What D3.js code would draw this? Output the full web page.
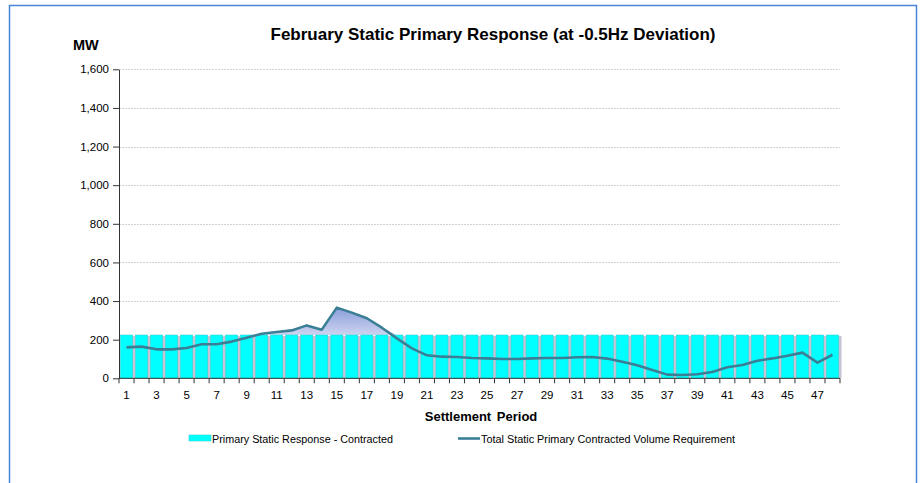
<!DOCTYPE html>
<html><head><meta charset="utf-8">
<script src="https://cdn.jsdelivr.net/npm/d3@7/dist/d3.min.js"></script>
<style>body{margin:0;background:#fff;}svg{display:block;font-family:Arial,"Liberation Sans",sans-serif;}</style>
</head><body><svg id="c" width="921" height="483"></svg>
<script>
const periods = d3.range(1, 49);
const contracted = Array(48).fill(224);
const requirement = [160,164,150,150,157,176,176,190,210,231,240,248,274,252,366,340,311,262,207,155,119,112,110,105,103,100,100,103,105,105,109,110,102,86,67,43,19,17,21,33,57,69,91,103,117,133,81,122];
const yTicks = [0,200,400,600,800,1000,1200,1400,1600];
const xLabels = periods.filter(p => p % 2 === 1);
const titleText = "February Static Primary Response (at -0.5Hz Deviation)";
const legendLabels = ["Primary Static Response - Contracted", "Total Static Primary Contracted Volume Requirement"];

const svg = d3.select("#c");
const m = {l:119, r:840, t:69.3, b:378.3};
const x = d3.scaleBand().domain(periods).range([m.l, m.r]).paddingInner(0.2).paddingOuter(0.1);
const xb = d3.scaleBand().domain(periods).range([m.l, m.r]);
const y = d3.scaleLinear().domain([0,1600]).range([m.b, m.t]);

// frame
svg.append("path").attr("d", `M9.5,490 L9.5,5.5 L916.5,5.5 L916.5,490`).attr("fill","none").attr("stroke","#4a86d8").attr("stroke-width",1.5);

// gradient
const defs = svg.append("defs");
const g = defs.append("linearGradient").attr("id","ag").attr("x1",0).attr("y1",0).attr("x2",0).attr("y2",1);
g.append("stop").attr("offset","0%").attr("stop-color","#8a9edb");
g.append("stop").attr("offset","100%").attr("stop-color","#cdd4f0");

// gridlines
svg.append("g").selectAll("line").data(yTicks.filter(d=>d>0)).join("line")
  .attr("x1", m.l).attr("x2", m.r).attr("y1", d=>Math.round(y(d))+0.5).attr("y2", d=>Math.round(y(d))+0.5)
  .attr("stroke","#d2d2d2").attr("stroke-dasharray","2,1");

// area where requirement exceeds contracted
const areaData = periods.map((p,i)=>({x:xb(p)+xb.bandwidth()/2, top:Math.max(requirement[i], contracted[i]), base:contracted[i]}));
svg.append("path").datum(areaData)
  .attr("d", d3.area().x(d=>d.x).y0(d=>y(d.base)).y1(d=>y(d.top)))
  .attr("fill","url(#ag)");

// bar shadows
svg.append("g").selectAll("rect").data(periods).join("rect")
  .attr("x", p=>x(p)+2).attr("y", (p,i)=>y(contracted[i])+1)
  .attr("width", x.bandwidth()+1).attr("height", (p,i)=>y(0)-y(contracted[i])-1)
  .attr("fill","#c4c4d6");
// bars
svg.append("g").selectAll("rect").data(periods).join("rect")
  .attr("x", p=>x(p)).attr("y", (p,i)=>y(contracted[i]))
  .attr("width", x.bandwidth()).attr("height", (p,i)=>y(0)-y(contracted[i]))
  .attr("fill","#00ffff").attr("stroke","#2bd4d4").attr("stroke-width",0.6);

// line
svg.append("path").datum(requirement)
  .attr("d", d3.line().x((d,i)=>xb(periods[i])+xb.bandwidth()/2).y(d=>y(d)))
  .attr("fill","none").attr("stroke","#3a7f95").attr("stroke-width",2.6).attr("stroke-linejoin","round");

// y axis
const ya = svg.append("g").attr("transform",`translate(${m.l},0)`)
  .call(d3.axisLeft(y).tickValues(yTicks).tickFormat(d3.format(",")).tickSize(6).tickPadding(4).tickSizeOuter(0));
ya.select(".domain").attr("stroke","#333");
ya.selectAll(".tick line").attr("stroke","#333");
ya.selectAll("text").attr("font-size","11.5px").attr("fill","#000").attr("font-family","Arial, 'Liberation Sans', sans-serif");

// x axis
const xa = svg.append("g").attr("transform",`translate(0,${m.b})`);
xa.append("line").attr("x1",m.l).attr("x2",m.r).attr("y1",0).attr("y2",0).attr("stroke","#333");
xa.selectAll("line.t").data(periods.concat([49])).join("line").attr("class","t")
  .attr("x1", p=> p<=48 ? xb(p) : m.r).attr("x2", p=> p<=48 ? xb(p) : m.r)
  .attr("y1",0).attr("y2",5).attr("stroke","#333");
xa.selectAll("text").data(xLabels).join("text")
  .attr("x", p=>xb(p)+xb.bandwidth()/2).attr("y", 21).attr("text-anchor","middle")
  .attr("font-size","11.5px").attr("fill","#000").text(d=>d);

// titles
svg.append("text").attr("x",493).attr("y",40).attr("text-anchor","middle")
  .attr("font-size","17px").attr("font-weight","bold").text(titleText);
svg.append("text").attr("x",73).attr("y",50).attr("font-size","14.5px").attr("font-weight","bold").text("MW");
svg.append("text").attr("x",481).attr("y",421).attr("text-anchor","middle")
  .attr("font-size","13px").attr("font-weight","bold").attr("word-spacing","2px").text("Settlement Period");

// legend
const lg = svg.append("g").attr("font-size","10px");
lg.append("rect").attr("x",189).attr("y",435).attr("width",22).attr("height",6).attr("fill","#00ffff").attr("stroke","#2bd4d4").attr("stroke-width",0.6);
lg.append("text").attr("x",212).attr("y",442.5).attr("textLength",181).attr("lengthAdjust","spacingAndGlyphs").text(legendLabels[0]);
lg.append("line").attr("x1",458).attr("x2",480).attr("y1",438.5).attr("y2",438.5).attr("stroke","#3a7f95").attr("stroke-width",2.6);
lg.append("text").attr("x",481).attr("y",442.5).attr("textLength",254).attr("lengthAdjust","spacingAndGlyphs").text(legendLabels[1]);
</script></body></html>
